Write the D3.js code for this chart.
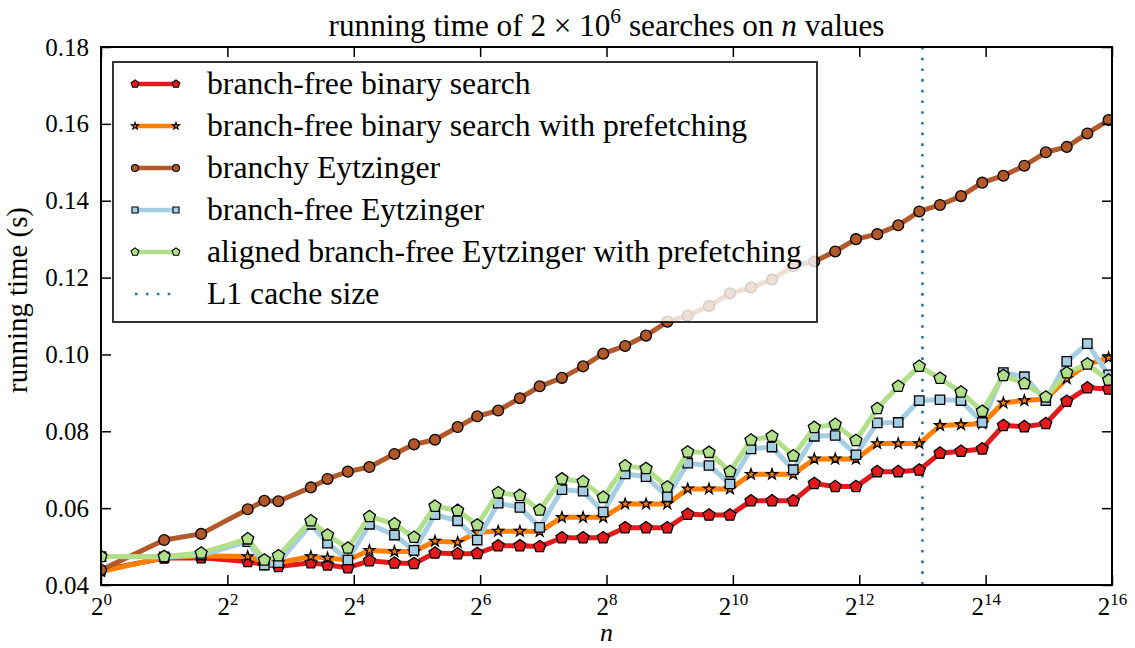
<!DOCTYPE html>
<html><head><meta charset="utf-8">
<script src="https://cdn.jsdelivr.net/npm/d3@7"></script>
<style>body{margin:0;background:#fff}</style>
</head><body>
<svg id="chart" width="1135" height="648"></svg>
<script>
// ---------------- data ----------------
const nValues = [1, 2, 3, 5, 6, 7, 10, 12, 15, 19, 25, 31, 39, 50, 62, 78, 99, 123, 157, 198, 247, 314, 395, 499, 624, 788, 992, 1249, 1573, 1987, 2501, 3147, 3951, 4990, 6281, 7912, 9933, 12503, 15790, 19907, 25060, 31715, 39905, 50008, 63150];
const branchFreeBinary = [0.0438, 0.0470, 0.0471, 0.0461, 0.0453, 0.0448, 0.0458, 0.0452, 0.0445, 0.0463, 0.0457, 0.0456, 0.0483, 0.0481, 0.0482, 0.0502, 0.0502, 0.0500, 0.0523, 0.0523, 0.0523, 0.0549, 0.0549, 0.0549, 0.0584, 0.0582, 0.0582, 0.0619, 0.0619, 0.0619, 0.0664, 0.0656, 0.0656, 0.0695, 0.0695, 0.0699, 0.0743, 0.0748, 0.0754, 0.0815, 0.0812, 0.0820, 0.0878, 0.0913, 0.0910];
const branchFreeBinaryPrefetch = [0.0435, 0.0472, 0.0476, 0.0474, 0.0462, 0.0458, 0.0474, 0.0470, 0.0465, 0.0490, 0.0487, 0.0487, 0.0514, 0.0511, 0.0537, 0.0540, 0.0540, 0.0539, 0.0576, 0.0576, 0.0576, 0.0611, 0.0611, 0.0611, 0.0650, 0.0650, 0.0650, 0.0688, 0.0688, 0.0688, 0.0728, 0.0728, 0.0728, 0.0768, 0.0768, 0.0768, 0.0815, 0.0817, 0.0820, 0.0874, 0.0880, 0.0884, 0.0937, 0.0974, 0.0991];
const branchyEytzinger = [0.0439, 0.0517, 0.0533, 0.0597, 0.0619, 0.0618, 0.0654, 0.0676, 0.0695, 0.0707, 0.0741, 0.0766, 0.0778, 0.0811, 0.0839, 0.0854, 0.0886, 0.0917, 0.0939, 0.0969, 0.1002, 0.1022, 0.1049, 0.1085, 0.1101, 0.1126, 0.1159, 0.1174, 0.1195, 0.1230, 0.1242, 0.1268, 0.1300, 0.1313, 0.1336, 0.1372, 0.1389, 0.1412, 0.1447, 0.1465, 0.1491, 0.1526, 0.1540, 0.1575, 0.1610];
const branchFreeEytzinger = [0.0474, 0.0473, 0.0478, 0.0513, 0.0452, 0.0458, 0.0558, 0.0509, 0.0465, 0.0558, 0.0530, 0.0490, 0.0583, 0.0567, 0.0517, 0.0613, 0.0602, 0.0550, 0.0648, 0.0644, 0.0590, 0.0689, 0.0682, 0.0630, 0.0717, 0.0711, 0.0663, 0.0754, 0.0759, 0.0700, 0.0787, 0.0789, 0.0739, 0.0822, 0.0823, 0.0880, 0.0882, 0.0880, 0.0823, 0.0953, 0.0942, 0.0880, 0.0982, 0.1028, 0.0947];
const alignedEytzingerPrefetch = [0.0474, 0.0474, 0.0483, 0.0520, 0.0465, 0.0476, 0.0567, 0.0530, 0.0496, 0.0578, 0.0559, 0.0524, 0.0605, 0.0594, 0.0556, 0.0640, 0.0633, 0.0595, 0.0676, 0.0669, 0.0628, 0.0710, 0.0703, 0.0655, 0.0746, 0.0745, 0.0695, 0.0777, 0.0787, 0.0736, 0.0810, 0.0818, 0.0776, 0.0859, 0.0917, 0.0969, 0.0938, 0.0902, 0.0852, 0.0945, 0.0924, 0.0889, 0.0952, 0.0975, 0.0933];
const seriesNames = ["branch-free binary search", "branch-free binary search with prefetching", "branchy Eytzinger", "branch-free Eytzinger", "aligned branch-free Eytzinger with prefetching"];
const l1CacheLabel = "L1 cache size";
const l1CacheN = 8192;
const xTickExponents = [0, 2, 4, 6, 8, 10, 12, 14, 16];
const yTickValues = [0.04, 0.06, 0.08, 0.10, 0.12, 0.14, 0.16, 0.18];

// ---------------- setup ----------------
const FONT = "'Liberation Serif', 'DejaVu Serif', serif";
const colors = ["#e31a1c", "#ff7f00", "#b15928", "#a6cee3", "#b2df8a"];
const markers = ["pentagon", "star", "circle", "square", "pentagon"];
const seriesValues = [branchFreeBinary, branchFreeBinaryPrefetch, branchyEytzinger, branchFreeEytzinger, alignedEytzingerPrefetch];

const L = 101, R = 1112, T = 47, B = 585;
const svg = d3.select("#chart");
const x = d3.scaleLog().base(2).domain([1, 65536]).range([L, R]);
const y = d3.scaleLinear().domain([0.04, 0.18]).range([B, T]);

const pentagonType = {
  draw(ctx, size) {
    const r = Math.sqrt(size);
    for (let i = 0; i < 5; i++) {
      const a = -Math.PI / 2 + i * 2 * Math.PI / 5;
      const px = r * Math.cos(a), py = r * Math.sin(a);
      if (i === 0) ctx.moveTo(px, py); else ctx.lineTo(px, py);
    }
    ctx.closePath();
  }
};
function markerPath(kind, scale) {
  if (kind === "pentagon") return d3.symbol().type(pentagonType).size(Math.pow(6.3 * scale, 2))();
  if (kind === "circle") return d3.symbol().type(d3.symbolCircle).size(Math.PI * Math.pow(5.4 * scale, 2))();
  if (kind === "square") return d3.symbol().type(d3.symbolSquare).size(Math.pow(9.4 * scale, 2))();
  if (kind === "star") return d3.symbol().type(d3.symbolStar).size(36 * scale * scale)();
}
function fitWidth(sel, target) {
  const w = sel.node().getComputedTextLength();
  const k = target / w;
  sel.attr("font-size", parseFloat(sel.attr("font-size")) * k);
  sel.selectAll("tspan").each(function() {
    const t = d3.select(this);
    if (t.attr("font-size")) t.attr("font-size", parseFloat(t.attr("font-size")) * k);
    if (t.attr("dy")) t.attr("dy", parseFloat(t.attr("dy")) * k);
  });
}

svg.append("rect").attr("width", 1135).attr("height", 648).attr("fill", "#fff");

svg.append("defs").append("clipPath").attr("id", "plotClip")
  .append("rect").attr("x", L).attr("y", T).attr("width", R - L).attr("height", B - T);

const plot = svg.append("g").attr("clip-path", "url(#plotClip)");

// L1 cache vertical line
plot.append("line")
  .attr("x1", x(l1CacheN)).attr("x2", x(l1CacheN))
  .attr("y1", T).attr("y2", B)
  .attr("stroke", "#1f77b4").attr("stroke-width", 2.6)
  .attr("stroke-dasharray", "2.6 8.1");

const line = d3.line().x((d, i) => x(nValues[i])).y(d => y(d));

seriesValues.forEach((vals, si) => {
  const g = plot.append("g");
  g.append("path").datum(vals)
    .attr("d", line)
    .attr("fill", "none")
    .attr("stroke", colors[si])
    .attr("stroke-width", 5)
    .attr("stroke-linejoin", "round");
  g.selectAll("path.m").data(vals).join("path")
    .attr("class", "m")
    .attr("transform", (d, i) => `translate(${x(nValues[i])},${y(d)})`)
    .attr("d", markerPath(markers[si], 1))
    .attr("fill", colors[si])
    .attr("stroke", "#000")
    .attr("stroke-width", 1.3);
});

// axes (ticks inward)
const axisStyle = g => {
  g.select(".domain").remove();
  g.selectAll(".tick line").attr("stroke", "#000").attr("stroke-width", 1.5);
};
svg.append("g").attr("transform", `translate(0,${B})`)
  .call(d3.axisBottom(x).tickValues(xTickExponents.map(e => Math.pow(2, e))).tickSize(-10).tickPadding(12).tickSizeOuter(0))
  .call(axisStyle)
  .call(g => g.selectAll(".tick text").each(function(d) {
    const t = d3.select(this);
    t.text(null).attr("font-family", FONT).attr("font-size", 25).attr("fill", "#000").attr("dy", "0.71em");
    t.append("tspan").text("2");
    t.append("tspan").attr("dy", -10).attr("font-size", 17).text(Math.round(Math.log2(d)));
  }));
svg.append("g").attr("transform", `translate(0,${T})`)
  .call(d3.axisTop(x).tickValues(xTickExponents.map(e => Math.pow(2, e))).tickSize(-10).tickFormat(() => "").tickSizeOuter(0))
  .call(axisStyle);
svg.append("g").attr("transform", `translate(${L},0)`)
  .call(d3.axisLeft(y).tickValues(yTickValues).tickSize(-10).tickPadding(12).tickFormat(d3.format(".2f")).tickSizeOuter(0))
  .call(axisStyle)
  .call(g => g.selectAll(".tick text").attr("font-family", FONT).attr("font-size", 25).attr("fill", "#000"));
svg.append("g").attr("transform", `translate(${R},0)`)
  .call(d3.axisRight(y).tickValues(yTickValues).tickSize(-10).tickFormat(() => "").tickSizeOuter(0))
  .call(axisStyle);

// spines
svg.append("rect").attr("x", L).attr("y", T).attr("width", R - L).attr("height", B - T)
  .attr("fill", "none").attr("stroke", "#000").attr("stroke-width", 2);

// title
const title = svg.append("text").attr("x", (L + R) / 2).attr("y", 36)
  .attr("text-anchor", "middle").attr("font-family", FONT).attr("font-size", 26).attr("fill", "#000");
title.append("tspan").text("running time of 2 × 10");
title.append("tspan").attr("dy", -11).attr("font-size", 18).text("6");
title.append("tspan").attr("dy", 11).text(" searches on ");
title.append("tspan").attr("font-style", "italic").text("n");
title.append("tspan").text(" values");
fitWidth(title, 556);

// axis labels
svg.append("text").attr("x", (L + R) / 2).attr("y", 641)
  .attr("text-anchor", "middle").attr("font-family", FONT).attr("font-size", 26)
  .attr("font-style", "italic").attr("fill", "#000").text("n");
const ylab = svg.append("text").attr("transform", `translate(27,300) rotate(-90)`)
  .attr("text-anchor", "middle").attr("font-family", FONT).attr("font-size", 24)
  .attr("fill", "#000").text("running time (s)");
fitWidth(ylab, 186);

// legend
const leg = svg.append("g");
leg.append("rect").attr("x", 113).attr("y", 62).attr("width", 704).attr("height", 260)
  .attr("fill", "#fff").attr("fill-opacity", 0.8)
  .attr("stroke", "#000").attr("stroke-opacity", 0.8).attr("stroke-width", 2);
const legX1 = 135, legX2 = 176, legText = 207, legY0 = 84, legStep = 42;
const legendLabels = seriesNames.concat([l1CacheLabel]);
legendLabels.forEach((name, i) => {
  const ly = legY0 + i * legStep;
  if (i < 5) {
    leg.append("line").attr("x1", legX1).attr("x2", legX2).attr("y1", ly).attr("y2", ly)
      .attr("stroke", colors[i]).attr("stroke-width", 4.5);
    [legX1, legX2].forEach(mx => {
      leg.append("path").attr("transform", `translate(${mx},${ly})`)
        .attr("d", markerPath(markers[i], 0.65))
        .attr("fill", colors[i]).attr("stroke", "#000").attr("stroke-width", 1.1);
    });
  } else {
    leg.append("line").attr("x1", legX1).attr("x2", legX2 - 4).attr("y1", ly).attr("y2", ly)
      .attr("stroke", "#1f77b4").attr("stroke-width", 2.6).attr("stroke-dasharray", "2.6 8.3");
  }
  leg.append("text").attr("class", "legtext").attr("x", legText).attr("y", ly + 10)
    .attr("font-family", FONT).attr("font-size", 28).attr("fill", "#000").text(name);
});
// fit legend font size so the longest label spans the same width as the original
const texts = leg.selectAll("text.legtext");
let maxW = 0;
texts.each(function() { maxW = Math.max(maxW, this.getComputedTextLength()); });
texts.attr("font-size", 28 * 595 / maxW);
</script>
</body></html>
